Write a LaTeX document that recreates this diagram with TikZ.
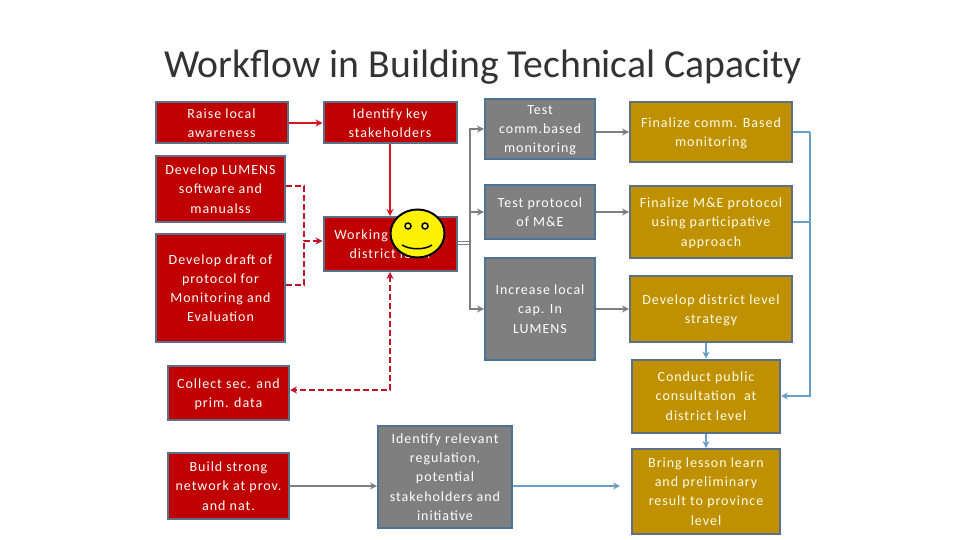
\documentclass[tikz,border=0pt]{standalone}
\usepackage{fontspec}
\setmainfont[LetterSpace=7]{Carlito}
\newfontfamily\titlefont{Carlito}
\usetikzlibrary{arrows.meta,calc,shapes.geometric}
\definecolor{boxred}{HTML}{C00000}
\definecolor{boxgray}{HTML}{7F7F7F}
\definecolor{boxgold}{HTML}{BF9000}
\definecolor{edgeslate}{HTML}{5D6F86}
\definecolor{edgeblue}{HTML}{4A7396}
\definecolor{linkred}{HTML}{D8141E}
\definecolor{linkdash}{HTML}{C0142A}
\definecolor{linkgray}{HTML}{7F7F7F}
\definecolor{linkblue}{HTML}{6A9FC8}
\begin{document}
\begin{tikzpicture}[x=1pt,y=-1pt,>={Stealth[length=7pt,width=7pt]},
  box/.style={draw,line width=2pt,align=center,inner sep=0pt,text=white,
    font=\fontsize{14}{19.2}\selectfont,text depth=0pt},
  redbox/.style={box,fill=boxred,draw=edgeslate},
  graybox/.style={box,fill=boxgray,draw=edgeblue},
  goldbox/.style={box,fill=boxgold,draw=edgeslate,text=white!90!yellow},
  redlink/.style={->,line width=2pt,draw=linkred},
  dashlink/.style={line width=2pt,draw=linkdash,dash pattern=on 6pt off 3pt},
  graylink/.style={->,line width=1.9pt,draw=linkgray},
  bluelink/.style={line width=1.9pt,draw=linkblue}]
  \useasboundingbox (0,0) rectangle (960,540);
  \node[font=\fontsize{39.7}{44}\selectfont\titlefont,text=black!80] (title) at (483,67) {Workflow in Building Technical Capacity};
  % left column
  \node[redbox,minimum width=132pt,minimum height=41pt] (raise) at (221.5,123) {Raise local\\awareness};
  \node[redbox,minimum width=129pt,minimum height=66pt] (lumens) at (220.5,189) {Develop LUMENS\\software and\\manualss};
  \node[redbox,minimum width=129pt,minimum height=108pt] (draft) at (220.5,288) {Develop draft of\\protocol for\\Monitoring and\\Evaluation};
  \node[redbox,minimum width=121pt,minimum height=54pt] (collect) at (228.5,393) {Collect sec. and\\prim. data};
  \node[redbox,minimum width=121pt,minimum height=66pt] (network) at (228.5,486) {Build strong\\network at prov.\\and nat.};
  % second column
  \node[redbox,minimum width=133pt,minimum height=41pt] (stakeholders) at (390,123) {Identify key\\stakeholders};
  \node[redbox,minimum width=133pt,minimum height=54pt] (working) at (390,244) {Working group at\\district level};
  \node[graybox,minimum width=134pt,minimum height=102pt] (regulation) at (445,477) {Identify relevant\\regulation,\\potential\\stakeholders and\\initiative};
  % third column
  \node[graybox,minimum width=110pt,minimum height=60pt] (testcomm) at (540,129) {Test\\comm.based\\monitoring};
  \node[graybox,minimum width=110pt,minimum height=54pt] (testprotocol) at (540,212) {Test protocol\\of M\&E};
  \node[graybox,minimum width=110pt,minimum height=102pt] (localcap) at (540,309) {Increase local\\cap. In\\LUMENS};
  % fourth column
  \node[goldbox,minimum width=162pt,minimum height=60pt] (fincomm) at (711,132) {Finalize comm. Based\\monitoring};
  \node[goldbox,minimum width=162pt,minimum height=72pt] (finprotocol) at (711,222) {Finalize M\&E protocol\\using participative\\approach};
  \node[goldbox,minimum width=162pt,minimum height=66pt] (strategy) at (711,309) {Develop district level\\strategy};
  \node[goldbox,minimum width=148pt,minimum height=73pt] (consult) at (706,396) {Conduct public\\consultation~ at\\district level};
  \node[goldbox,minimum width=148pt,minimum height=85pt] (lesson) at (706,491.5) {Bring lesson learn\\and preliminary\\result to province\\level};
  % free ends and junctions
  \coordinate (dashjoin) at (304,241);
  \coordinate (graybus) at (470,243);
  \coordinate (bluebus) at (810,132);
  \coordinate (lessonend) at (620,486);
  % red links
  \draw[redlink] (raise) -- (stakeholders);
  \draw[redlink] (stakeholders) -- (working);
  \draw[dashlink] ([yshift=3pt]lumens.east) -| (dashjoin);
  \draw[dashlink] ([yshift=3pt]draft.east) -| (dashjoin);
  \draw[dashlink,->] (dashjoin) -- (working.west |- dashjoin);
  \draw[dashlink,<->] (working.south) |- ([yshift=3pt]collect.east);
  % gray links
  \draw[line width=1.3pt,draw=linkgray,double=white,double distance=1.4pt] (working.east |- graybus) -- (graybus);
  \draw[graylink] (graybus) |- (testcomm);
  \draw[graylink] (graybus) |- (testprotocol);
  \draw[graylink] (graybus) |- (localcap);
  \draw[graylink] (testcomm.east |- fincomm) -- (fincomm);
  \draw[graylink] (testprotocol) -- (testprotocol -| finprotocol.west);
  \draw[graylink] (localcap) -- (strategy);
  \draw[graylink] (network) -- (regulation.west |- network);
  % blue links
  \draw[bluelink] (fincomm.east) -| (bluebus);
  \draw[bluelink] (finprotocol.east) -- (finprotocol.east -| bluebus);
  \draw[bluelink,->] (bluebus) |- (consult.east);
  \draw[bluelink,->] (strategy.south -| consult) -- (consult.north);
  \draw[bluelink,->] (consult.south) -- (lesson.north);
  \draw[bluelink,->] (regulation.east |- network) -- (lessonend);
  % smiley on top of the working box
  \node[draw=black,line width=2pt,fill=yellow,ellipse,minimum width=54pt,minimum height=48pt,inner sep=0pt] (smiley) at (417.5,233.5) {};
  \node[draw=black,line width=1.5pt,fill=yellow!60!white,circle,minimum size=6pt,inner sep=0pt] (lefteye) at (408,226) {};
  \node[draw=black,line width=1.5pt,fill=yellow!60!white,circle,minimum size=6pt,inner sep=0pt] (righteye) at (425,226) {};
  \draw[line width=1.5pt] (402,245) .. controls (410,250) and (425,250) .. (432,245);
\end{tikzpicture}
\end{document}
